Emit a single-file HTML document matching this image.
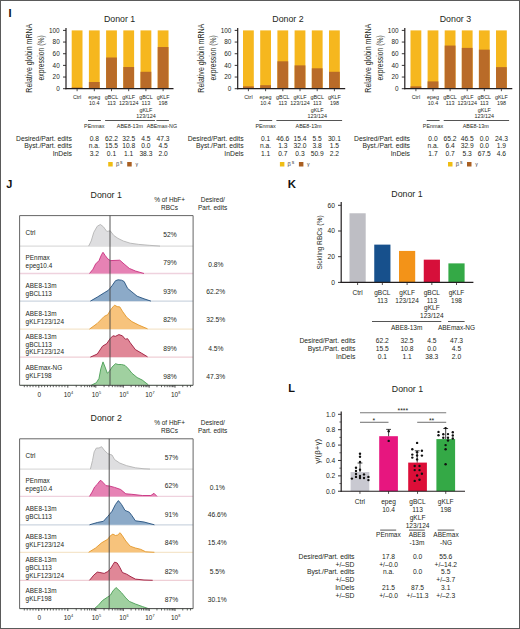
<!DOCTYPE html>
<html><head><meta charset="utf-8"><title>Figure</title>
<style>
html,body{margin:0;padding:0;background:#fff;}
#fig{position:relative;width:520px;height:629px;overflow:hidden;background:#fff;}
svg{position:absolute;left:0;top:0;display:block;font-family:"Liberation Sans", sans-serif;}
#brd{position:absolute;left:0;top:0;width:518px;height:627px;border:1px solid #5a5a5a;}
</style></head>
<body><div id="fig">
<svg width="520" height="629" viewBox="0 0 520 629">
<text x="119.6" y="22.3" font-size="8.8" text-anchor="middle" fill="#231f20" font-weight="normal">Donor 1</text>
<rect x="71.70" y="30.40" width="10.80" height="58.30" fill="#f6b71e"/>
<rect x="71.70" y="87.53" width="10.80" height="1.17" fill="#b96b28"/>
<rect x="88.90" y="30.40" width="10.80" height="58.30" fill="#f6b71e"/>
<rect x="88.90" y="82.00" width="10.80" height="6.70" fill="#b96b28"/>
<rect x="106.10" y="30.40" width="10.80" height="58.30" fill="#f6b71e"/>
<rect x="106.10" y="57.51" width="10.80" height="31.19" fill="#b96b28"/>
<rect x="123.30" y="30.40" width="10.80" height="58.30" fill="#f6b71e"/>
<rect x="123.30" y="67.01" width="10.80" height="21.69" fill="#b96b28"/>
<rect x="140.50" y="30.40" width="10.80" height="58.30" fill="#f6b71e"/>
<rect x="140.50" y="71.79" width="10.80" height="16.91" fill="#b96b28"/>
<rect x="157.70" y="30.40" width="10.80" height="58.30" fill="#f6b71e"/>
<rect x="157.70" y="47.02" width="10.80" height="41.68" fill="#b96b28"/>
<line x1="66.0" y1="27.9" x2="66.0" y2="89.3" stroke="#231f20" stroke-width="1.2"/>
<line x1="65.4" y1="88.7" x2="173.5" y2="88.7" stroke="#231f20" stroke-width="1.2"/>
<line x1="63.0" y1="88.7" x2="66.0" y2="88.7" stroke="#231f20" stroke-width="0.9"/>
<text x="59.7" y="90.9" font-size="6.4" text-anchor="end" fill="#231f20" font-weight="normal">0</text>
<line x1="63.0" y1="77.04" x2="66.0" y2="77.04" stroke="#231f20" stroke-width="0.9"/>
<text x="59.7" y="79.24000000000001" font-size="6.4" text-anchor="end" fill="#231f20" font-weight="normal">20</text>
<line x1="63.0" y1="65.38" x2="66.0" y2="65.38" stroke="#231f20" stroke-width="0.9"/>
<text x="59.7" y="67.58" font-size="6.4" text-anchor="end" fill="#231f20" font-weight="normal">40</text>
<line x1="63.0" y1="53.72" x2="66.0" y2="53.72" stroke="#231f20" stroke-width="0.9"/>
<text x="59.7" y="55.92" font-size="6.4" text-anchor="end" fill="#231f20" font-weight="normal">60</text>
<line x1="63.0" y1="42.059999999999995" x2="66.0" y2="42.059999999999995" stroke="#231f20" stroke-width="0.9"/>
<text x="59.7" y="44.26" font-size="6.4" text-anchor="end" fill="#231f20" font-weight="normal">80</text>
<line x1="63.0" y1="30.4" x2="66.0" y2="30.4" stroke="#231f20" stroke-width="0.9"/>
<text x="59.7" y="32.6" font-size="6.4" text-anchor="end" fill="#231f20" font-weight="normal">100</text>
<line x1="77.10000000000001" y1="88.7" x2="77.10000000000001" y2="91.2" stroke="#231f20" stroke-width="0.8"/>
<text x="77.10000000000001" y="98.6" font-size="5.4" text-anchor="middle" fill="#231f20" font-weight="normal">Ctrl</text>
<line x1="94.30000000000001" y1="88.7" x2="94.30000000000001" y2="91.2" stroke="#231f20" stroke-width="0.8"/>
<text x="94.30000000000001" y="98.6" font-size="5.4" text-anchor="middle" fill="#231f20" font-weight="normal">epeg</text>
<text x="94.30000000000001" y="105.0" font-size="5.4" text-anchor="middle" fill="#231f20" font-weight="normal">10.4</text>
<line x1="111.5" y1="88.7" x2="111.5" y2="91.2" stroke="#231f20" stroke-width="0.8"/>
<text x="111.5" y="98.6" font-size="5.4" text-anchor="middle" fill="#231f20" font-weight="normal">gBCL</text>
<text x="111.5" y="105.0" font-size="5.4" text-anchor="middle" fill="#231f20" font-weight="normal">113</text>
<line x1="128.7" y1="88.7" x2="128.7" y2="91.2" stroke="#231f20" stroke-width="0.8"/>
<text x="128.7" y="98.6" font-size="5.4" text-anchor="middle" fill="#231f20" font-weight="normal">gKLF</text>
<text x="128.7" y="105.0" font-size="5.4" text-anchor="middle" fill="#231f20" font-weight="normal">123/124</text>
<line x1="145.9" y1="88.7" x2="145.9" y2="91.2" stroke="#231f20" stroke-width="0.8"/>
<text x="145.9" y="98.6" font-size="5.4" text-anchor="middle" fill="#231f20" font-weight="normal">gBCL</text>
<text x="145.9" y="105.0" font-size="5.4" text-anchor="middle" fill="#231f20" font-weight="normal">113</text>
<line x1="163.1" y1="88.7" x2="163.1" y2="91.2" stroke="#231f20" stroke-width="0.8"/>
<text x="163.1" y="98.6" font-size="5.4" text-anchor="middle" fill="#231f20" font-weight="normal">gKLF</text>
<text x="163.1" y="105.0" font-size="5.4" text-anchor="middle" fill="#231f20" font-weight="normal">198</text>
<text x="145.9" y="111.6" font-size="5.4" text-anchor="middle" fill="#231f20" font-weight="normal">gKLF</text>
<text x="145.9" y="118.0" font-size="5.4" text-anchor="middle" fill="#231f20" font-weight="normal">123/124</text>
<text transform="translate(32.4,58.2) rotate(-90) scale(0.85,1)" x="0" y="0" font-size="8.3" text-anchor="middle" fill="#231f20">Relative globin mRNA</text>
<text transform="translate(44.0,57.9) rotate(-90) scale(0.818,1)" x="0" y="0" font-size="8.3" text-anchor="middle" fill="#231f20">expression (%)</text>
<line x1="88.00000000000001" y1="120.5" x2="100.9" y2="120.5" stroke="#555" stroke-width="1.0"/>
<text x="94.30000000000001" y="127.9" font-size="5.4" text-anchor="middle" fill="#231f20" font-weight="normal">PEnmax</text>
<line x1="105.1" y1="120.5" x2="155.0" y2="120.5" stroke="#555" stroke-width="1.0"/>
<text x="129.89999999999998" y="127.9" font-size="5.4" text-anchor="middle" fill="#231f20" font-weight="normal">ABE8-13m</text>
<line x1="156.4" y1="120.5" x2="168.9" y2="120.5" stroke="#555" stroke-width="1.0"/>
<text x="161.9" y="127.9" font-size="5.3" text-anchor="middle" fill="#231f20" font-weight="normal">ABEmax-NG</text>
<text x="71.9" y="140.8" font-size="6.8" text-anchor="end" fill="#231f20" font-weight="normal">Desired/Part. edits</text>
<text x="94.30000000000001" y="140.8" font-size="6.7" text-anchor="middle" fill="#231f20" font-weight="normal">0.8</text>
<text x="111.5" y="140.8" font-size="6.7" text-anchor="middle" fill="#231f20" font-weight="normal">62.2</text>
<text x="128.7" y="140.8" font-size="6.7" text-anchor="middle" fill="#231f20" font-weight="normal">32.5</text>
<text x="145.9" y="140.8" font-size="6.7" text-anchor="middle" fill="#231f20" font-weight="normal">4.5</text>
<text x="163.1" y="140.8" font-size="6.7" text-anchor="middle" fill="#231f20" font-weight="normal">47.3</text>
<text x="71.9" y="148.3" font-size="6.8" text-anchor="end" fill="#231f20" font-weight="normal">Byst./Part. edits</text>
<text x="94.30000000000001" y="148.3" font-size="6.7" text-anchor="middle" fill="#231f20" font-weight="normal">n.a.</text>
<text x="111.5" y="148.3" font-size="6.7" text-anchor="middle" fill="#231f20" font-weight="normal">15.5</text>
<text x="128.7" y="148.3" font-size="6.7" text-anchor="middle" fill="#231f20" font-weight="normal">10.8</text>
<text x="145.9" y="148.3" font-size="6.7" text-anchor="middle" fill="#231f20" font-weight="normal">0.0</text>
<text x="163.1" y="148.3" font-size="6.7" text-anchor="middle" fill="#231f20" font-weight="normal">4.5</text>
<text x="71.9" y="155.8" font-size="6.8" text-anchor="end" fill="#231f20" font-weight="normal">InDels</text>
<text x="94.30000000000001" y="155.8" font-size="6.7" text-anchor="middle" fill="#231f20" font-weight="normal">3.2</text>
<text x="111.5" y="155.8" font-size="6.7" text-anchor="middle" fill="#231f20" font-weight="normal">0.1</text>
<text x="128.7" y="155.8" font-size="6.7" text-anchor="middle" fill="#231f20" font-weight="normal">1.1</text>
<text x="145.9" y="155.8" font-size="6.7" text-anchor="middle" fill="#231f20" font-weight="normal">38.3</text>
<text x="163.1" y="155.8" font-size="6.7" text-anchor="middle" fill="#231f20" font-weight="normal">2.0</text>
<rect x="108.20" y="162.00" width="4.50" height="4.50" fill="#efbd14"/>
<text x="115.9" y="165.7" font-size="5.9" text-anchor="start" fill="#444" font-weight="normal">β</text>
<text x="120.10000000000001" y="163.6" font-size="5.0" text-anchor="start" fill="#333" font-weight="normal">s</text>
<rect x="127.20" y="162.00" width="4.50" height="4.50" fill="#a95f22"/>
<text x="135.4" y="166.1" font-size="5.2" text-anchor="start" fill="#444" font-weight="normal">γ</text>
<text x="288.0" y="22.3" font-size="8.8" text-anchor="middle" fill="#231f20" font-weight="normal">Donor 2</text>
<rect x="243.00" y="30.40" width="10.80" height="58.30" fill="#f6b71e"/>
<rect x="243.00" y="86.37" width="10.80" height="2.33" fill="#b96b28"/>
<rect x="260.20" y="30.40" width="10.80" height="58.30" fill="#f6b71e"/>
<rect x="260.20" y="85.20" width="10.80" height="3.50" fill="#b96b28"/>
<rect x="277.40" y="30.40" width="10.80" height="58.30" fill="#f6b71e"/>
<rect x="277.40" y="61.30" width="10.80" height="27.40" fill="#b96b28"/>
<rect x="294.60" y="30.40" width="10.80" height="58.30" fill="#f6b71e"/>
<rect x="294.60" y="65.38" width="10.80" height="23.32" fill="#b96b28"/>
<rect x="311.80" y="30.40" width="10.80" height="58.30" fill="#f6b71e"/>
<rect x="311.80" y="68.30" width="10.80" height="20.41" fill="#b96b28"/>
<rect x="329.00" y="30.40" width="10.80" height="58.30" fill="#f6b71e"/>
<rect x="329.00" y="71.79" width="10.80" height="16.91" fill="#b96b28"/>
<line x1="237.7" y1="27.9" x2="237.7" y2="89.3" stroke="#231f20" stroke-width="1.2"/>
<line x1="237.1" y1="88.7" x2="345.2" y2="88.7" stroke="#231f20" stroke-width="1.2"/>
<line x1="234.7" y1="88.7" x2="237.7" y2="88.7" stroke="#231f20" stroke-width="0.9"/>
<text x="231.39999999999998" y="90.9" font-size="6.4" text-anchor="end" fill="#231f20" font-weight="normal">0</text>
<line x1="234.7" y1="77.04" x2="237.7" y2="77.04" stroke="#231f20" stroke-width="0.9"/>
<text x="231.39999999999998" y="79.24000000000001" font-size="6.4" text-anchor="end" fill="#231f20" font-weight="normal">20</text>
<line x1="234.7" y1="65.38" x2="237.7" y2="65.38" stroke="#231f20" stroke-width="0.9"/>
<text x="231.39999999999998" y="67.58" font-size="6.4" text-anchor="end" fill="#231f20" font-weight="normal">40</text>
<line x1="234.7" y1="53.72" x2="237.7" y2="53.72" stroke="#231f20" stroke-width="0.9"/>
<text x="231.39999999999998" y="55.92" font-size="6.4" text-anchor="end" fill="#231f20" font-weight="normal">60</text>
<line x1="234.7" y1="42.059999999999995" x2="237.7" y2="42.059999999999995" stroke="#231f20" stroke-width="0.9"/>
<text x="231.39999999999998" y="44.26" font-size="6.4" text-anchor="end" fill="#231f20" font-weight="normal">80</text>
<line x1="234.7" y1="30.4" x2="237.7" y2="30.4" stroke="#231f20" stroke-width="0.9"/>
<text x="231.39999999999998" y="32.6" font-size="6.4" text-anchor="end" fill="#231f20" font-weight="normal">100</text>
<line x1="248.4" y1="88.7" x2="248.4" y2="91.2" stroke="#231f20" stroke-width="0.8"/>
<text x="248.4" y="98.6" font-size="5.4" text-anchor="middle" fill="#231f20" font-weight="normal">Ctrl</text>
<line x1="265.59999999999997" y1="88.7" x2="265.59999999999997" y2="91.2" stroke="#231f20" stroke-width="0.8"/>
<text x="265.59999999999997" y="98.6" font-size="5.4" text-anchor="middle" fill="#231f20" font-weight="normal">epeg</text>
<text x="265.59999999999997" y="105.0" font-size="5.4" text-anchor="middle" fill="#231f20" font-weight="normal">10.4</text>
<line x1="282.79999999999995" y1="88.7" x2="282.79999999999995" y2="91.2" stroke="#231f20" stroke-width="0.8"/>
<text x="282.79999999999995" y="98.6" font-size="5.4" text-anchor="middle" fill="#231f20" font-weight="normal">gBCL</text>
<text x="282.79999999999995" y="105.0" font-size="5.4" text-anchor="middle" fill="#231f20" font-weight="normal">113</text>
<line x1="300.0" y1="88.7" x2="300.0" y2="91.2" stroke="#231f20" stroke-width="0.8"/>
<text x="300.0" y="98.6" font-size="5.4" text-anchor="middle" fill="#231f20" font-weight="normal">gKLF</text>
<text x="300.0" y="105.0" font-size="5.4" text-anchor="middle" fill="#231f20" font-weight="normal">123/124</text>
<line x1="317.2" y1="88.7" x2="317.2" y2="91.2" stroke="#231f20" stroke-width="0.8"/>
<text x="317.2" y="98.6" font-size="5.4" text-anchor="middle" fill="#231f20" font-weight="normal">gBCL</text>
<text x="317.2" y="105.0" font-size="5.4" text-anchor="middle" fill="#231f20" font-weight="normal">113</text>
<line x1="334.4" y1="88.7" x2="334.4" y2="91.2" stroke="#231f20" stroke-width="0.8"/>
<text x="334.4" y="98.6" font-size="5.4" text-anchor="middle" fill="#231f20" font-weight="normal">gKLF</text>
<text x="334.4" y="105.0" font-size="5.4" text-anchor="middle" fill="#231f20" font-weight="normal">198</text>
<text x="317.2" y="111.6" font-size="5.4" text-anchor="middle" fill="#231f20" font-weight="normal">gKLF</text>
<text x="317.2" y="118.0" font-size="5.4" text-anchor="middle" fill="#231f20" font-weight="normal">123/124</text>
<text transform="translate(204.1,58.2) rotate(-90) scale(0.85,1)" x="0" y="0" font-size="8.3" text-anchor="middle" fill="#231f20">Relative globin mRNA</text>
<text transform="translate(215.7,57.9) rotate(-90) scale(0.818,1)" x="0" y="0" font-size="8.3" text-anchor="middle" fill="#231f20">expression (%)</text>
<line x1="259.29999999999995" y1="120.5" x2="272.2" y2="120.5" stroke="#555" stroke-width="1.0"/>
<text x="265.59999999999997" y="127.9" font-size="5.4" text-anchor="middle" fill="#231f20" font-weight="normal">PEnmax</text>
<line x1="276.4" y1="120.5" x2="342.09999999999997" y2="120.5" stroke="#555" stroke-width="1.0"/>
<text x="308.59999999999997" y="127.9" font-size="5.4" text-anchor="middle" fill="#231f20" font-weight="normal">ABE8-13m</text>
<text x="243.6" y="140.8" font-size="6.8" text-anchor="end" fill="#231f20" font-weight="normal">Desired/Part. edits</text>
<text x="265.59999999999997" y="140.8" font-size="6.7" text-anchor="middle" fill="#231f20" font-weight="normal">0.1</text>
<text x="282.79999999999995" y="140.8" font-size="6.7" text-anchor="middle" fill="#231f20" font-weight="normal">46.6</text>
<text x="300.0" y="140.8" font-size="6.7" text-anchor="middle" fill="#231f20" font-weight="normal">15.4</text>
<text x="317.2" y="140.8" font-size="6.7" text-anchor="middle" fill="#231f20" font-weight="normal">5.5</text>
<text x="334.4" y="140.8" font-size="6.7" text-anchor="middle" fill="#231f20" font-weight="normal">30.1</text>
<text x="243.6" y="148.3" font-size="6.8" text-anchor="end" fill="#231f20" font-weight="normal">Byst./Part. edits</text>
<text x="265.59999999999997" y="148.3" font-size="6.7" text-anchor="middle" fill="#231f20" font-weight="normal">n.a.</text>
<text x="282.79999999999995" y="148.3" font-size="6.7" text-anchor="middle" fill="#231f20" font-weight="normal">1.3</text>
<text x="300.0" y="148.3" font-size="6.7" text-anchor="middle" fill="#231f20" font-weight="normal">32.0</text>
<text x="317.2" y="148.3" font-size="6.7" text-anchor="middle" fill="#231f20" font-weight="normal">3.8</text>
<text x="334.4" y="148.3" font-size="6.7" text-anchor="middle" fill="#231f20" font-weight="normal">1.5</text>
<text x="243.6" y="155.8" font-size="6.8" text-anchor="end" fill="#231f20" font-weight="normal">InDels</text>
<text x="265.59999999999997" y="155.8" font-size="6.7" text-anchor="middle" fill="#231f20" font-weight="normal">1.1</text>
<text x="282.79999999999995" y="155.8" font-size="6.7" text-anchor="middle" fill="#231f20" font-weight="normal">0.7</text>
<text x="300.0" y="155.8" font-size="6.7" text-anchor="middle" fill="#231f20" font-weight="normal">0.3</text>
<text x="317.2" y="155.8" font-size="6.7" text-anchor="middle" fill="#231f20" font-weight="normal">50.9</text>
<text x="334.4" y="155.8" font-size="6.7" text-anchor="middle" fill="#231f20" font-weight="normal">2.2</text>
<rect x="279.90" y="162.00" width="4.50" height="4.50" fill="#efbd14"/>
<text x="287.5999999999999" y="165.7" font-size="5.9" text-anchor="start" fill="#444" font-weight="normal">β</text>
<text x="291.7999999999999" y="163.6" font-size="5.0" text-anchor="start" fill="#333" font-weight="normal">s</text>
<rect x="298.90" y="162.00" width="4.50" height="4.50" fill="#a95f22"/>
<text x="307.0999999999999" y="166.1" font-size="5.2" text-anchor="start" fill="#444" font-weight="normal">γ</text>
<text x="455.4" y="22.3" font-size="8.8" text-anchor="middle" fill="#231f20" font-weight="normal">Donor 3</text>
<rect x="410.50" y="30.40" width="10.80" height="58.30" fill="#f6b71e"/>
<rect x="410.50" y="86.37" width="10.80" height="2.33" fill="#b96b28"/>
<rect x="427.60" y="30.40" width="10.80" height="58.30" fill="#f6b71e"/>
<rect x="427.60" y="81.41" width="10.80" height="7.29" fill="#b96b28"/>
<rect x="444.70" y="30.40" width="10.80" height="58.30" fill="#f6b71e"/>
<rect x="444.70" y="45.56" width="10.80" height="43.14" fill="#b96b28"/>
<rect x="461.80" y="30.40" width="10.80" height="58.30" fill="#f6b71e"/>
<rect x="461.80" y="47.89" width="10.80" height="40.81" fill="#b96b28"/>
<rect x="478.90" y="30.40" width="10.80" height="58.30" fill="#f6b71e"/>
<rect x="478.90" y="49.64" width="10.80" height="39.06" fill="#b96b28"/>
<rect x="496.00" y="30.40" width="10.80" height="58.30" fill="#f6b71e"/>
<rect x="496.00" y="67.13" width="10.80" height="21.57" fill="#b96b28"/>
<line x1="404.8" y1="27.9" x2="404.8" y2="89.3" stroke="#231f20" stroke-width="1.2"/>
<line x1="404.2" y1="88.7" x2="512.3" y2="88.7" stroke="#231f20" stroke-width="1.2"/>
<line x1="401.8" y1="88.7" x2="404.8" y2="88.7" stroke="#231f20" stroke-width="0.9"/>
<text x="398.5" y="90.9" font-size="6.4" text-anchor="end" fill="#231f20" font-weight="normal">0</text>
<line x1="401.8" y1="77.04" x2="404.8" y2="77.04" stroke="#231f20" stroke-width="0.9"/>
<text x="398.5" y="79.24000000000001" font-size="6.4" text-anchor="end" fill="#231f20" font-weight="normal">20</text>
<line x1="401.8" y1="65.38" x2="404.8" y2="65.38" stroke="#231f20" stroke-width="0.9"/>
<text x="398.5" y="67.58" font-size="6.4" text-anchor="end" fill="#231f20" font-weight="normal">40</text>
<line x1="401.8" y1="53.72" x2="404.8" y2="53.72" stroke="#231f20" stroke-width="0.9"/>
<text x="398.5" y="55.92" font-size="6.4" text-anchor="end" fill="#231f20" font-weight="normal">60</text>
<line x1="401.8" y1="42.059999999999995" x2="404.8" y2="42.059999999999995" stroke="#231f20" stroke-width="0.9"/>
<text x="398.5" y="44.26" font-size="6.4" text-anchor="end" fill="#231f20" font-weight="normal">80</text>
<line x1="401.8" y1="30.4" x2="404.8" y2="30.4" stroke="#231f20" stroke-width="0.9"/>
<text x="398.5" y="32.6" font-size="6.4" text-anchor="end" fill="#231f20" font-weight="normal">100</text>
<line x1="415.9" y1="88.7" x2="415.9" y2="91.2" stroke="#231f20" stroke-width="0.8"/>
<text x="415.9" y="98.6" font-size="5.4" text-anchor="middle" fill="#231f20" font-weight="normal">Ctrl</text>
<line x1="433.0" y1="88.7" x2="433.0" y2="91.2" stroke="#231f20" stroke-width="0.8"/>
<text x="433.0" y="98.6" font-size="5.4" text-anchor="middle" fill="#231f20" font-weight="normal">epeg</text>
<text x="433.0" y="105.0" font-size="5.4" text-anchor="middle" fill="#231f20" font-weight="normal">10.4</text>
<line x1="450.09999999999997" y1="88.7" x2="450.09999999999997" y2="91.2" stroke="#231f20" stroke-width="0.8"/>
<text x="450.09999999999997" y="98.6" font-size="5.4" text-anchor="middle" fill="#231f20" font-weight="normal">gBCL</text>
<text x="450.09999999999997" y="105.0" font-size="5.4" text-anchor="middle" fill="#231f20" font-weight="normal">113</text>
<line x1="467.2" y1="88.7" x2="467.2" y2="91.2" stroke="#231f20" stroke-width="0.8"/>
<text x="467.2" y="98.6" font-size="5.4" text-anchor="middle" fill="#231f20" font-weight="normal">gKLF</text>
<text x="467.2" y="105.0" font-size="5.4" text-anchor="middle" fill="#231f20" font-weight="normal">123/124</text>
<line x1="484.29999999999995" y1="88.7" x2="484.29999999999995" y2="91.2" stroke="#231f20" stroke-width="0.8"/>
<text x="484.29999999999995" y="98.6" font-size="5.4" text-anchor="middle" fill="#231f20" font-weight="normal">gBCL</text>
<text x="484.29999999999995" y="105.0" font-size="5.4" text-anchor="middle" fill="#231f20" font-weight="normal">113</text>
<line x1="501.4" y1="88.7" x2="501.4" y2="91.2" stroke="#231f20" stroke-width="0.8"/>
<text x="501.4" y="98.6" font-size="5.4" text-anchor="middle" fill="#231f20" font-weight="normal">gKLF</text>
<text x="501.4" y="105.0" font-size="5.4" text-anchor="middle" fill="#231f20" font-weight="normal">198</text>
<text x="484.29999999999995" y="111.6" font-size="5.4" text-anchor="middle" fill="#231f20" font-weight="normal">gKLF</text>
<text x="484.29999999999995" y="118.0" font-size="5.4" text-anchor="middle" fill="#231f20" font-weight="normal">123/124</text>
<text transform="translate(371.2,58.2) rotate(-90) scale(0.85,1)" x="0" y="0" font-size="8.3" text-anchor="middle" fill="#231f20">Relative globin mRNA</text>
<text transform="translate(382.8,57.9) rotate(-90) scale(0.818,1)" x="0" y="0" font-size="8.3" text-anchor="middle" fill="#231f20">expression (%)</text>
<line x1="426.7" y1="120.5" x2="439.6" y2="120.5" stroke="#555" stroke-width="1.0"/>
<text x="433.0" y="127.9" font-size="5.4" text-anchor="middle" fill="#231f20" font-weight="normal">PEnmax</text>
<line x1="443.7" y1="120.5" x2="509.09999999999997" y2="120.5" stroke="#555" stroke-width="1.0"/>
<text x="475.75" y="127.9" font-size="5.4" text-anchor="middle" fill="#231f20" font-weight="normal">ABE8-13m</text>
<text x="410.0" y="140.8" font-size="6.8" text-anchor="end" fill="#231f20" font-weight="normal">Desired/Part. edits</text>
<text x="433.0" y="140.8" font-size="6.7" text-anchor="middle" fill="#231f20" font-weight="normal">0.0</text>
<text x="450.09999999999997" y="140.8" font-size="6.7" text-anchor="middle" fill="#231f20" font-weight="normal">65.2</text>
<text x="467.2" y="140.8" font-size="6.7" text-anchor="middle" fill="#231f20" font-weight="normal">46.5</text>
<text x="484.29999999999995" y="140.8" font-size="6.7" text-anchor="middle" fill="#231f20" font-weight="normal">0.0</text>
<text x="501.4" y="140.8" font-size="6.7" text-anchor="middle" fill="#231f20" font-weight="normal">24.3</text>
<text x="410.0" y="148.3" font-size="6.8" text-anchor="end" fill="#231f20" font-weight="normal">Byst./Part. edits</text>
<text x="433.0" y="148.3" font-size="6.7" text-anchor="middle" fill="#231f20" font-weight="normal">n.a.</text>
<text x="450.09999999999997" y="148.3" font-size="6.7" text-anchor="middle" fill="#231f20" font-weight="normal">6.4</text>
<text x="467.2" y="148.3" font-size="6.7" text-anchor="middle" fill="#231f20" font-weight="normal">32.9</text>
<text x="484.29999999999995" y="148.3" font-size="6.7" text-anchor="middle" fill="#231f20" font-weight="normal">0.0</text>
<text x="501.4" y="148.3" font-size="6.7" text-anchor="middle" fill="#231f20" font-weight="normal">1.9</text>
<text x="410.0" y="155.8" font-size="6.8" text-anchor="end" fill="#231f20" font-weight="normal">InDels</text>
<text x="433.0" y="155.8" font-size="6.7" text-anchor="middle" fill="#231f20" font-weight="normal">1.7</text>
<text x="450.09999999999997" y="155.8" font-size="6.7" text-anchor="middle" fill="#231f20" font-weight="normal">0.7</text>
<text x="467.2" y="155.8" font-size="6.7" text-anchor="middle" fill="#231f20" font-weight="normal">5.3</text>
<text x="484.29999999999995" y="155.8" font-size="6.7" text-anchor="middle" fill="#231f20" font-weight="normal">67.5</text>
<text x="501.4" y="155.8" font-size="6.7" text-anchor="middle" fill="#231f20" font-weight="normal">4.6</text>
<rect x="448.00" y="162.00" width="4.50" height="4.50" fill="#efbd14"/>
<text x="455.69999999999993" y="165.7" font-size="5.9" text-anchor="start" fill="#444" font-weight="normal">β</text>
<text x="459.8999999999999" y="163.6" font-size="5.0" text-anchor="start" fill="#333" font-weight="normal">s</text>
<rect x="467.00" y="162.00" width="4.50" height="4.50" fill="#a95f22"/>
<text x="475.19999999999993" y="166.1" font-size="5.2" text-anchor="start" fill="#444" font-weight="normal">γ</text>
<text x="8.6" y="17.4" font-size="11" text-anchor="start" fill="#111" font-weight="bold">I</text>
<text x="6.3" y="188.2" font-size="11" text-anchor="start" fill="#111" font-weight="bold">J</text>
<text x="287.8" y="188.0" font-size="11.4" text-anchor="start" fill="#111" font-weight="bold">K</text>
<text x="288.2" y="391.8" font-size="11" text-anchor="start" fill="#111" font-weight="bold">L</text>
<text x="106.2" y="197.9" font-size="8.8" text-anchor="middle" fill="#231f20" font-weight="normal">Donor 1</text>
<text x="169.6" y="202.1" font-size="6.5" text-anchor="middle" fill="#231f20" font-weight="normal">% of HbF+</text>
<text x="169.6" y="209.6" font-size="6.5" text-anchor="middle" fill="#231f20" font-weight="normal">RBCs</text>
<text x="212.8" y="202.1" font-size="6.5" text-anchor="middle" fill="#231f20" font-weight="normal">Desired/</text>
<text x="212.6" y="209.6" font-size="6.5" text-anchor="middle" fill="#231f20" font-weight="normal">Part. edits</text>
<line x1="19.6" y1="246.1" x2="193.1" y2="246.1" stroke="#dcdcdc" stroke-width="1.3"/>
<path d="M88.65,246.1 L88.65,246.1 L91.2,241 L93.8,232.3 L97.3,226.2 L100.4,224.5 L103.4,226.8 L106.8,231.4 L110.3,230.9 L113.7,235.4 L118,238.4 L123.3,241 L130.2,243.2 L138.8,244.4 L149.2,245.3 L160,246.1 L160,246.1 Z" fill="#dedee0" stroke="none"/>
<path d="M88.65,246.1 L88.65,246.1 L91.2,241 L93.8,232.3 L97.3,226.2 L100.4,224.5 L103.4,226.8 L106.8,231.4 L110.3,230.9 L113.7,235.4 L118,238.4 L123.3,241 L130.2,243.2 L138.8,244.4 L149.2,245.3 L160,246.1" fill="none" stroke="#b4b4b4" stroke-width="0.9" stroke-linejoin="round"/>
<line x1="19.6" y1="273.5" x2="193.1" y2="273.5" stroke="#efd2de" stroke-width="1.3"/>
<path d="M89.5,273.5 L89.5,273.5 L93,269.2 L95.6,264 L99,260.6 L101.6,254.5 L103,252.3 L105.1,255.4 L107.7,258.8 L110.3,260.6 L119.8,260.2 L124.1,264 L129.3,268.4 L135.4,271 L144,273.5 L144,273.5 Z" fill="#e682b4" stroke="none"/>
<path d="M89.5,273.5 L89.5,273.5 L93,269.2 L95.6,264 L99,260.6 L101.6,254.5 L103,252.3 L105.1,255.4 L107.7,258.8 L110.3,260.6 L119.8,260.2 L124.1,264 L129.3,268.4 L135.4,271 L144,273.5" fill="none" stroke="#c8307f" stroke-width="0.9" stroke-linejoin="round"/>
<line x1="19.6" y1="301.1" x2="193.1" y2="301.1" stroke="#cdd6e0" stroke-width="1.3"/>
<path d="M90.4,301.1 L90.4,301.1 L97.3,297.1 L104.2,292.8 L108.5,290.2 L112,285.8 L115.5,280.7 L118.1,279.8 L121.5,280.2 L124.1,281.5 L127.6,288.4 L131.9,291.9 L137.1,296.2 L144,298.8 L150.9,301.1 L150.9,301.1 Z" fill="#8caac8" stroke="none"/>
<path d="M90.4,301.1 L90.4,301.1 L97.3,297.1 L104.2,292.8 L108.5,290.2 L112,285.8 L115.5,280.7 L118.1,279.8 L121.5,280.2 L124.1,281.5 L127.6,288.4 L131.9,291.9 L137.1,296.2 L144,298.8 L150.9,301.1" fill="none" stroke="#24507e" stroke-width="0.9" stroke-linejoin="round"/>
<line x1="19.6" y1="329.1" x2="193.1" y2="329.1" stroke="#f5e6cc" stroke-width="1.3"/>
<path d="M89.5,329.1 L89.5,329.1 L97.3,323.4 L104.2,316.4 L107.7,314.7 L110.3,310.4 L112.9,306.9 L114.6,305.2 L117.2,306.6 L119.8,306.9 L122.4,311.2 L126.7,317.3 L131.9,321.6 L138.8,325.1 L147.5,328.8 L147.5,329.1 Z" fill="#f7c37c" stroke="none"/>
<path d="M89.5,329.1 L89.5,329.1 L97.3,323.4 L104.2,316.4 L107.7,314.7 L110.3,310.4 L112.9,306.9 L114.6,305.2 L117.2,306.6 L119.8,306.9 L122.4,311.2 L126.7,317.3 L131.9,321.6 L138.8,325.1 L147.5,328.8" fill="none" stroke="#e3972a" stroke-width="0.9" stroke-linejoin="round"/>
<line x1="19.6" y1="357.1" x2="193.1" y2="357.1" stroke="#efcfd6" stroke-width="1.3"/>
<path d="M90.4,357.1 L90.4,357.1 L97.3,354 L102.5,346.2 L106.8,343.6 L110.3,338.4 L112.9,335.8 L115.5,336.3 L118.9,334.6 L122.4,335.8 L125.3,339.2 L127.6,338.7 L130.2,342.7 L135.4,349.6 L141.4,353.1 L147.5,356.8 L147.5,357.1 Z" fill="#e08797" stroke="none"/>
<path d="M90.4,357.1 L90.4,357.1 L97.3,354 L102.5,346.2 L106.8,343.6 L110.3,338.4 L112.9,335.8 L115.5,336.3 L118.9,334.6 L122.4,335.8 L125.3,339.2 L127.6,338.7 L130.2,342.7 L135.4,349.6 L141.4,353.1 L147.5,356.8" fill="none" stroke="#9c1b3c" stroke-width="0.9" stroke-linejoin="round"/>
<line x1="19.6" y1="385.3" x2="193.1" y2="385.3" stroke="#d3ebd3" stroke-width="1.3"/>
<path d="M91.2,385.3 L91.2,385.3 L96.4,382.7 L99,378.4 L100.8,368.8 L103,361.9 L105.1,367.1 L107.3,373.2 L109.4,371.4 L112,367.1 L115.5,363.7 L118.1,364.5 L121.5,364.5 L125,365.4 L128.4,368.8 L131.9,373.2 L137.1,377.5 L142.3,380.1 L148.3,384.8 L148.3,385.3 Z" fill="#a0d0a0" stroke="none"/>
<path d="M91.2,385.3 L91.2,385.3 L96.4,382.7 L99,378.4 L100.8,368.8 L103,361.9 L105.1,367.1 L107.3,373.2 L109.4,371.4 L112,367.1 L115.5,363.7 L118.1,364.5 L121.5,364.5 L125,365.4 L128.4,368.8 L131.9,373.2 L137.1,377.5 L142.3,380.1 L148.3,384.8" fill="none" stroke="#4a9e55" stroke-width="0.9" stroke-linejoin="round"/>
<path d="M19.6,385.3 L19.6,215.6 L193.1,215.6 L193.1,385.3" fill="none" stroke="#666" stroke-width="1"/>
<line x1="19.6" y1="385.3" x2="193.1" y2="385.3" stroke="#4a4a4a" stroke-width="1.0"/>
<line x1="110.0" y1="215.6" x2="110.0" y2="385.3" stroke="#444" stroke-width="0.9"/>
<text x="25.6" y="235.0" font-size="6.4" text-anchor="start" fill="#231f20" font-weight="normal">Ctrl</text>
<text x="170.0" y="237.1" font-size="6.7" text-anchor="middle" fill="#231f20" font-weight="normal">52%</text>
<text x="25.6" y="260.0" font-size="6.4" text-anchor="start" fill="#231f20" font-weight="normal">PEnmax</text>
<text x="25.6" y="267.8" font-size="6.4" text-anchor="start" fill="#231f20" font-weight="normal">epeg10.4</text>
<text x="170.0" y="265.2" font-size="6.7" text-anchor="middle" fill="#231f20" font-weight="normal">79%</text>
<text x="215.8" y="266.9" font-size="6.7" text-anchor="middle" fill="#231f20" font-weight="normal">0.8%</text>
<text x="25.6" y="287.9" font-size="6.4" text-anchor="start" fill="#231f20" font-weight="normal">ABE8-13m</text>
<text x="25.6" y="295.7" font-size="6.4" text-anchor="start" fill="#231f20" font-weight="normal">gBCL113</text>
<text x="170.0" y="293.7" font-size="6.7" text-anchor="middle" fill="#231f20" font-weight="normal">93%</text>
<text x="215.8" y="293.7" font-size="6.7" text-anchor="middle" fill="#231f20" font-weight="normal">62.2%</text>
<text x="25.6" y="316.2" font-size="6.4" text-anchor="start" fill="#231f20" font-weight="normal">ABE8-13m</text>
<text x="25.6" y="324.0" font-size="6.4" text-anchor="start" fill="#231f20" font-weight="normal">gKLF123/124</text>
<text x="170.0" y="322.1" font-size="6.7" text-anchor="middle" fill="#231f20" font-weight="normal">82%</text>
<text x="215.8" y="322.1" font-size="6.7" text-anchor="middle" fill="#231f20" font-weight="normal">32.5%</text>
<text x="25.6" y="338.7" font-size="6.4" text-anchor="start" fill="#231f20" font-weight="normal">ABE8-13m</text>
<text x="25.6" y="346.5" font-size="6.4" text-anchor="start" fill="#231f20" font-weight="normal">gBCL113</text>
<text x="25.6" y="354.3" font-size="6.4" text-anchor="start" fill="#231f20" font-weight="normal">gKLF123/124</text>
<text x="170.0" y="350.5" font-size="6.7" text-anchor="middle" fill="#231f20" font-weight="normal">89%</text>
<text x="215.8" y="350.5" font-size="6.7" text-anchor="middle" fill="#231f20" font-weight="normal">4.5%</text>
<text x="25.6" y="369.8" font-size="6.4" text-anchor="start" fill="#231f20" font-weight="normal">ABEmax-NG</text>
<text x="25.6" y="377.6" font-size="6.4" text-anchor="start" fill="#231f20" font-weight="normal">gKLF198</text>
<text x="170.0" y="378.7" font-size="6.7" text-anchor="middle" fill="#231f20" font-weight="normal">98%</text>
<text x="215.8" y="378.7" font-size="6.7" text-anchor="middle" fill="#231f20" font-weight="normal">47.3%</text>
<line x1="38.8" y1="385.3" x2="38.8" y2="387.7" stroke="#222" stroke-width="0.8"/>
<line x1="67.8" y1="385.3" x2="67.8" y2="387.7" stroke="#222" stroke-width="0.8"/>
<line x1="95.8" y1="385.3" x2="95.8" y2="387.7" stroke="#222" stroke-width="0.8"/>
<line x1="123.3" y1="385.3" x2="123.3" y2="387.7" stroke="#222" stroke-width="0.8"/>
<line x1="149.2" y1="385.3" x2="149.2" y2="387.7" stroke="#222" stroke-width="0.8"/>
<line x1="175.0" y1="385.3" x2="175.0" y2="387.7" stroke="#222" stroke-width="0.8"/>
<line x1="76.22883987859147" y1="385.3" x2="76.22883987859147" y2="387.2" stroke="#333" stroke-width="0.75"/>
<line x1="81.15939513215055" y1="385.3" x2="81.15939513215055" y2="387.2" stroke="#333" stroke-width="0.75"/>
<line x1="84.65767975718295" y1="385.3" x2="84.65767975718295" y2="387.2" stroke="#333" stroke-width="0.75"/>
<line x1="87.37116012140852" y1="385.3" x2="87.37116012140852" y2="387.2" stroke="#333" stroke-width="0.75"/>
<line x1="89.58823501074201" y1="385.3" x2="89.58823501074201" y2="387.2" stroke="#333" stroke-width="0.75"/>
<line x1="91.46274512039919" y1="385.3" x2="91.46274512039919" y2="387.2" stroke="#333" stroke-width="0.75"/>
<line x1="93.08651963577441" y1="385.3" x2="93.08651963577441" y2="387.2" stroke="#333" stroke-width="0.75"/>
<line x1="94.51879026430109" y1="385.3" x2="94.51879026430109" y2="387.2" stroke="#333" stroke-width="0.75"/>
<line x1="104.07832488075948" y1="385.3" x2="104.07832488075948" y2="387.2" stroke="#333" stroke-width="0.75"/>
<line x1="108.92083450479072" y1="385.3" x2="108.92083450479072" y2="387.2" stroke="#333" stroke-width="0.75"/>
<line x1="112.35664976151897" y1="385.3" x2="112.35664976151897" y2="387.2" stroke="#333" stroke-width="0.75"/>
<line x1="115.02167511924051" y1="385.3" x2="115.02167511924051" y2="387.2" stroke="#333" stroke-width="0.75"/>
<line x1="117.19915938555019" y1="385.3" x2="117.19915938555019" y2="387.2" stroke="#333" stroke-width="0.75"/>
<line x1="119.04019610039205" y1="385.3" x2="119.04019610039205" y2="387.2" stroke="#333" stroke-width="0.75"/>
<line x1="120.63497464227845" y1="385.3" x2="120.63497464227845" y2="387.2" stroke="#333" stroke-width="0.75"/>
<line x1="122.04166900958143" y1="385.3" x2="122.04166900958143" y2="387.2" stroke="#333" stroke-width="0.75"/>
<line x1="131.0966768876971" y1="385.3" x2="131.0966768876971" y2="387.2" stroke="#333" stroke-width="0.75"/>
<line x1="135.65744049723924" y1="385.3" x2="135.65744049723924" y2="387.2" stroke="#333" stroke-width="0.75"/>
<line x1="138.89335377539422" y1="385.3" x2="138.89335377539422" y2="387.2" stroke="#333" stroke-width="0.75"/>
<line x1="141.40332311230287" y1="385.3" x2="141.40332311230287" y2="387.2" stroke="#333" stroke-width="0.75"/>
<line x1="143.45411738493635" y1="385.3" x2="143.45411738493635" y2="387.2" stroke="#333" stroke-width="0.75"/>
<line x1="145.18803923636924" y1="385.3" x2="145.18803923636924" y2="387.2" stroke="#333" stroke-width="0.75"/>
<line x1="146.69003066309133" y1="385.3" x2="146.69003066309133" y2="387.2" stroke="#333" stroke-width="0.75"/>
<line x1="148.01488099447852" y1="385.3" x2="148.01488099447852" y2="387.2" stroke="#333" stroke-width="0.75"/>
<line x1="156.9665738881307" y1="385.3" x2="156.9665738881307" y2="387.2" stroke="#333" stroke-width="0.75"/>
<line x1="161.5097283717673" y1="385.3" x2="161.5097283717673" y2="387.2" stroke="#333" stroke-width="0.75"/>
<line x1="164.73314777626143" y1="385.3" x2="164.73314777626143" y2="387.2" stroke="#333" stroke-width="0.75"/>
<line x1="167.23342611186928" y1="385.3" x2="167.23342611186928" y2="387.2" stroke="#333" stroke-width="0.75"/>
<line x1="169.276302259898" y1="385.3" x2="169.276302259898" y2="387.2" stroke="#333" stroke-width="0.75"/>
<line x1="171.00352943236783" y1="385.3" x2="171.00352943236783" y2="387.2" stroke="#333" stroke-width="0.75"/>
<line x1="172.49972166439215" y1="385.3" x2="172.49972166439215" y2="387.2" stroke="#333" stroke-width="0.75"/>
<line x1="173.81945674353457" y1="385.3" x2="173.81945674353457" y2="387.2" stroke="#333" stroke-width="0.75"/>
<line x1="182.76657388813072" y1="385.3" x2="182.76657388813072" y2="387.2" stroke="#333" stroke-width="0.75"/>
<line x1="187.3097283717673" y1="385.3" x2="187.3097283717673" y2="387.2" stroke="#333" stroke-width="0.75"/>
<line x1="190.53314777626144" y1="385.3" x2="190.53314777626144" y2="387.2" stroke="#333" stroke-width="0.75"/>
<line x1="41.699999999999996" y1="385.3" x2="41.699999999999996" y2="387.2" stroke="#333" stroke-width="0.75"/>
<line x1="44.599999999999994" y1="385.3" x2="44.599999999999994" y2="387.2" stroke="#333" stroke-width="0.75"/>
<line x1="47.5" y1="385.3" x2="47.5" y2="387.2" stroke="#333" stroke-width="0.75"/>
<line x1="50.4" y1="385.3" x2="50.4" y2="387.2" stroke="#333" stroke-width="0.75"/>
<line x1="53.3" y1="385.3" x2="53.3" y2="387.2" stroke="#333" stroke-width="0.75"/>
<line x1="56.199999999999996" y1="385.3" x2="56.199999999999996" y2="387.2" stroke="#333" stroke-width="0.75"/>
<line x1="59.099999999999994" y1="385.3" x2="59.099999999999994" y2="387.2" stroke="#333" stroke-width="0.75"/>
<line x1="62.0" y1="385.3" x2="62.0" y2="387.2" stroke="#333" stroke-width="0.75"/>
<line x1="64.9" y1="385.3" x2="64.9" y2="387.2" stroke="#333" stroke-width="0.75"/>
<line x1="35.9" y1="385.3" x2="35.9" y2="387.2" stroke="#333" stroke-width="0.75"/>
<line x1="33.0" y1="385.3" x2="33.0" y2="387.2" stroke="#333" stroke-width="0.75"/>
<line x1="30.099999999999998" y1="385.3" x2="30.099999999999998" y2="387.2" stroke="#333" stroke-width="0.75"/>
<line x1="27.199999999999996" y1="385.3" x2="27.199999999999996" y2="387.2" stroke="#333" stroke-width="0.75"/>
<line x1="24.299999999999997" y1="385.3" x2="24.299999999999997" y2="387.2" stroke="#333" stroke-width="0.75"/>
<text x="39.2" y="396.7" font-size="6.4" text-anchor="middle" fill="#231f20" font-weight="normal">0</text>
<text x="67.3" y="396.7" font-size="6.4" text-anchor="middle" fill="#231f20" font-weight="normal">10</text>
<text x="71.0" y="393.59999999999997" font-size="3.8" text-anchor="start" fill="#231f20" font-weight="normal">4</text>
<text x="95.3" y="396.7" font-size="6.4" text-anchor="middle" fill="#231f20" font-weight="normal">10</text>
<text x="99.0" y="393.59999999999997" font-size="3.8" text-anchor="start" fill="#231f20" font-weight="normal">5</text>
<text x="122.8" y="396.7" font-size="6.4" text-anchor="middle" fill="#231f20" font-weight="normal">10</text>
<text x="126.5" y="393.59999999999997" font-size="3.8" text-anchor="start" fill="#231f20" font-weight="normal">6</text>
<text x="148.7" y="396.7" font-size="6.4" text-anchor="middle" fill="#231f20" font-weight="normal">10</text>
<text x="152.39999999999998" y="393.59999999999997" font-size="3.8" text-anchor="start" fill="#231f20" font-weight="normal">7</text>
<text x="174.5" y="396.7" font-size="6.4" text-anchor="middle" fill="#231f20" font-weight="normal">10</text>
<text x="178.2" y="393.59999999999997" font-size="3.8" text-anchor="start" fill="#231f20" font-weight="normal">8</text>
<text x="106.2" y="421.0" font-size="8.8" text-anchor="middle" fill="#231f20" font-weight="normal">Donor 2</text>
<text x="169.6" y="425.2" font-size="6.5" text-anchor="middle" fill="#231f20" font-weight="normal">% of HbF+</text>
<text x="169.6" y="432.7" font-size="6.5" text-anchor="middle" fill="#231f20" font-weight="normal">RBCs</text>
<text x="212.8" y="425.2" font-size="6.5" text-anchor="middle" fill="#231f20" font-weight="normal">Desired/</text>
<text x="212.6" y="432.7" font-size="6.5" text-anchor="middle" fill="#231f20" font-weight="normal">Part. edits</text>
<line x1="19.6" y1="469.1" x2="193.1" y2="469.1" stroke="#dcdcdc" stroke-width="1.3"/>
<path d="M90.4,469.1 L90.4,469.1 L92.5,460.5 L94.2,451.8 L96.4,448 L99,448 L101.6,446.7 L104.2,450.1 L107.7,453.6 L109.8,454.4 L112,455 L114.6,459.6 L119.8,463.1 L126.7,465.7 L135.4,467.8 L144,468.8 L150,469.1 L150,469.1 Z" fill="#dedee0" stroke="none"/>
<path d="M90.4,469.1 L90.4,469.1 L92.5,460.5 L94.2,451.8 L96.4,448 L99,448 L101.6,446.7 L104.2,450.1 L107.7,453.6 L109.8,454.4 L112,455 L114.6,459.6 L119.8,463.1 L126.7,465.7 L135.4,467.8 L144,468.8 L150,469.1" fill="none" stroke="#b4b4b4" stroke-width="0.9" stroke-linejoin="round"/>
<line x1="19.6" y1="496.4" x2="193.1" y2="496.4" stroke="#efd2de" stroke-width="1.3"/>
<path d="M89.5,496.4 L89.5,496.4 L92.1,492.1 L94.7,486.9 L97.3,484.3 L99.9,480.8 L101.1,480.5 L103.4,482.9 L106,485.7 L109.4,486 L114.6,487.4 L120.7,489.5 L125.8,493.8 L131.9,494.3 L142.3,495.5 L150.9,495.5 L154,493.3 L157,496.4 L157,496.4 Z" fill="#e682b4" stroke="none"/>
<path d="M89.5,496.4 L89.5,496.4 L92.1,492.1 L94.7,486.9 L97.3,484.3 L99.9,480.8 L101.1,480.5 L103.4,482.9 L106,485.7 L109.4,486 L114.6,487.4 L120.7,489.5 L125.8,493.8 L131.9,494.3 L142.3,495.5 L150.9,495.5 L154,493.3 L157,496.4" fill="none" stroke="#c8307f" stroke-width="0.9" stroke-linejoin="round"/>
<line x1="19.6" y1="524.8" x2="193.1" y2="524.8" stroke="#cdd6e0" stroke-width="1.3"/>
<path d="M89.5,524.8 L89.5,524.8 L97.3,522.5 L103.4,521.3 L107.7,516.5 L112,511.3 L115.5,504.4 L118.4,500.6 L121.5,504.4 L125,510.4 L129.3,512.2 L131.9,515.6 L135.4,520.8 L144,522 L154.4,524.8 L154.4,524.8 Z" fill="#8caac8" stroke="none"/>
<path d="M89.5,524.8 L89.5,524.8 L97.3,522.5 L103.4,521.3 L107.7,516.5 L112,511.3 L115.5,504.4 L118.4,500.6 L121.5,504.4 L125,510.4 L129.3,512.2 L131.9,515.6 L135.4,520.8 L144,522 L154.4,524.8" fill="none" stroke="#24507e" stroke-width="0.9" stroke-linejoin="round"/>
<line x1="19.6" y1="552.3" x2="193.1" y2="552.3" stroke="#f5e6cc" stroke-width="1.3"/>
<path d="M88.65,552.3 L88.65,552.3 L95.6,548 L101.6,542.8 L107.7,539.3 L110.3,535.8 L112.9,534.1 L115.5,535.5 L117.7,535 L120.1,532.7 L122.4,535.8 L125.8,541 L130.2,546.2 L135.4,548 L140.6,549.3 L145.7,551.8 L154.4,552.3 L154.4,552.3 Z" fill="#f7c37c" stroke="none"/>
<path d="M88.65,552.3 L88.65,552.3 L95.6,548 L101.6,542.8 L107.7,539.3 L110.3,535.8 L112.9,534.1 L115.5,535.5 L117.7,535 L120.1,532.7 L122.4,535.8 L125.8,541 L130.2,546.2 L135.4,548 L140.6,549.3 L145.7,551.8 L154.4,552.3" fill="none" stroke="#e3972a" stroke-width="0.9" stroke-linejoin="round"/>
<line x1="19.6" y1="580.3" x2="193.1" y2="580.3" stroke="#efcfd6" stroke-width="1.3"/>
<path d="M89.5,580.3 L89.5,580.3 L93.8,575.1 L97.3,572.1 L99.9,572.5 L104.2,573.4 L107.7,571.6 L110.3,569 L112.9,564.7 L114.6,562.1 L117.2,563 L119.8,567.3 L122.4,572.5 L126.7,574.2 L131,576.8 L135.4,579.1 L144,580 L152.7,580.3 L152.7,580.3 Z" fill="#e08797" stroke="none"/>
<path d="M89.5,580.3 L89.5,580.3 L93.8,575.1 L97.3,572.1 L99.9,572.5 L104.2,573.4 L107.7,571.6 L110.3,569 L112.9,564.7 L114.6,562.1 L117.2,563 L119.8,567.3 L122.4,572.5 L126.7,574.2 L131,576.8 L135.4,579.1 L144,580 L152.7,580.3" fill="none" stroke="#9c1b3c" stroke-width="0.9" stroke-linejoin="round"/>
<line x1="19.6" y1="608.6" x2="193.1" y2="608.6" stroke="#d3ebd3" stroke-width="1.3"/>
<path d="M94.5,608.6 L94.5,608.6 L98.3,605.3 L102.5,600.5 L107.7,597 L110.3,595.3 L112.9,591 L116,587.5 L118.9,590.1 L121.5,592.7 L125.8,597.9 L129.3,601.4 L135.4,604 L142.3,606.5 L148.3,608.6 L148.3,608.6 Z" fill="#a0d0a0" stroke="none"/>
<path d="M94.5,608.6 L94.5,608.6 L98.3,605.3 L102.5,600.5 L107.7,597 L110.3,595.3 L112.9,591 L116,587.5 L118.9,590.1 L121.5,592.7 L125.8,597.9 L129.3,601.4 L135.4,604 L142.3,606.5 L148.3,608.6" fill="none" stroke="#4a9e55" stroke-width="0.9" stroke-linejoin="round"/>
<path d="M19.6,608.6 L19.6,438.79999999999995 L193.1,438.79999999999995 L193.1,608.6" fill="none" stroke="#666" stroke-width="1"/>
<line x1="19.6" y1="608.6" x2="193.1" y2="608.6" stroke="#4a4a4a" stroke-width="1.0"/>
<line x1="109.2" y1="438.79999999999995" x2="109.2" y2="608.6" stroke="#444" stroke-width="0.9"/>
<text x="25.6" y="458.2" font-size="6.4" text-anchor="start" fill="#231f20" font-weight="normal">Ctrl</text>
<text x="171.5" y="460.29999999999995" font-size="6.7" text-anchor="middle" fill="#231f20" font-weight="normal">57%</text>
<text x="25.6" y="483.2" font-size="6.4" text-anchor="start" fill="#231f20" font-weight="normal">PEnmax</text>
<text x="25.6" y="491.0" font-size="6.4" text-anchor="start" fill="#231f20" font-weight="normal">epeg10.4</text>
<text x="171.5" y="488.4" font-size="6.7" text-anchor="middle" fill="#231f20" font-weight="normal">62%</text>
<text x="217.3" y="490.09999999999997" font-size="6.7" text-anchor="middle" fill="#231f20" font-weight="normal">0.1%</text>
<text x="25.6" y="511.09999999999997" font-size="6.4" text-anchor="start" fill="#231f20" font-weight="normal">ABE8-13m</text>
<text x="25.6" y="518.9" font-size="6.4" text-anchor="start" fill="#231f20" font-weight="normal">gBCL113</text>
<text x="171.5" y="516.9" font-size="6.7" text-anchor="middle" fill="#231f20" font-weight="normal">91%</text>
<text x="217.3" y="516.9" font-size="6.7" text-anchor="middle" fill="#231f20" font-weight="normal">46.6%</text>
<text x="25.6" y="539.4" font-size="6.4" text-anchor="start" fill="#231f20" font-weight="normal">ABE8-13m</text>
<text x="25.6" y="547.1999999999999" font-size="6.4" text-anchor="start" fill="#231f20" font-weight="normal">gKLF123/124</text>
<text x="171.5" y="545.3" font-size="6.7" text-anchor="middle" fill="#231f20" font-weight="normal">84%</text>
<text x="217.3" y="545.3" font-size="6.7" text-anchor="middle" fill="#231f20" font-weight="normal">15.4%</text>
<text x="25.6" y="561.9" font-size="6.4" text-anchor="start" fill="#231f20" font-weight="normal">ABE8-13m</text>
<text x="25.6" y="569.6999999999999" font-size="6.4" text-anchor="start" fill="#231f20" font-weight="normal">gBCL113</text>
<text x="25.6" y="577.5" font-size="6.4" text-anchor="start" fill="#231f20" font-weight="normal">gKLF123/124</text>
<text x="171.5" y="573.7" font-size="6.7" text-anchor="middle" fill="#231f20" font-weight="normal">82%</text>
<text x="217.3" y="573.7" font-size="6.7" text-anchor="middle" fill="#231f20" font-weight="normal">5.5%</text>
<text x="25.6" y="593.0" font-size="6.4" text-anchor="start" fill="#231f20" font-weight="normal">ABE8-13m</text>
<text x="25.6" y="600.8" font-size="6.4" text-anchor="start" fill="#231f20" font-weight="normal">gKLF198</text>
<text x="171.5" y="601.9" font-size="6.7" text-anchor="middle" fill="#231f20" font-weight="normal">87%</text>
<text x="217.3" y="601.9" font-size="6.7" text-anchor="middle" fill="#231f20" font-weight="normal">30.1%</text>
<line x1="38.8" y1="608.6" x2="38.8" y2="611.0" stroke="#222" stroke-width="0.8"/>
<line x1="67.8" y1="608.6" x2="67.8" y2="611.0" stroke="#222" stroke-width="0.8"/>
<line x1="95.8" y1="608.6" x2="95.8" y2="611.0" stroke="#222" stroke-width="0.8"/>
<line x1="123.3" y1="608.6" x2="123.3" y2="611.0" stroke="#222" stroke-width="0.8"/>
<line x1="149.2" y1="608.6" x2="149.2" y2="611.0" stroke="#222" stroke-width="0.8"/>
<line x1="175.0" y1="608.6" x2="175.0" y2="611.0" stroke="#222" stroke-width="0.8"/>
<line x1="76.22883987859147" y1="608.6" x2="76.22883987859147" y2="610.5" stroke="#333" stroke-width="0.75"/>
<line x1="81.15939513215055" y1="608.6" x2="81.15939513215055" y2="610.5" stroke="#333" stroke-width="0.75"/>
<line x1="84.65767975718295" y1="608.6" x2="84.65767975718295" y2="610.5" stroke="#333" stroke-width="0.75"/>
<line x1="87.37116012140852" y1="608.6" x2="87.37116012140852" y2="610.5" stroke="#333" stroke-width="0.75"/>
<line x1="89.58823501074201" y1="608.6" x2="89.58823501074201" y2="610.5" stroke="#333" stroke-width="0.75"/>
<line x1="91.46274512039919" y1="608.6" x2="91.46274512039919" y2="610.5" stroke="#333" stroke-width="0.75"/>
<line x1="93.08651963577441" y1="608.6" x2="93.08651963577441" y2="610.5" stroke="#333" stroke-width="0.75"/>
<line x1="94.51879026430109" y1="608.6" x2="94.51879026430109" y2="610.5" stroke="#333" stroke-width="0.75"/>
<line x1="104.07832488075948" y1="608.6" x2="104.07832488075948" y2="610.5" stroke="#333" stroke-width="0.75"/>
<line x1="108.92083450479072" y1="608.6" x2="108.92083450479072" y2="610.5" stroke="#333" stroke-width="0.75"/>
<line x1="112.35664976151897" y1="608.6" x2="112.35664976151897" y2="610.5" stroke="#333" stroke-width="0.75"/>
<line x1="115.02167511924051" y1="608.6" x2="115.02167511924051" y2="610.5" stroke="#333" stroke-width="0.75"/>
<line x1="117.19915938555019" y1="608.6" x2="117.19915938555019" y2="610.5" stroke="#333" stroke-width="0.75"/>
<line x1="119.04019610039205" y1="608.6" x2="119.04019610039205" y2="610.5" stroke="#333" stroke-width="0.75"/>
<line x1="120.63497464227845" y1="608.6" x2="120.63497464227845" y2="610.5" stroke="#333" stroke-width="0.75"/>
<line x1="122.04166900958143" y1="608.6" x2="122.04166900958143" y2="610.5" stroke="#333" stroke-width="0.75"/>
<line x1="131.0966768876971" y1="608.6" x2="131.0966768876971" y2="610.5" stroke="#333" stroke-width="0.75"/>
<line x1="135.65744049723924" y1="608.6" x2="135.65744049723924" y2="610.5" stroke="#333" stroke-width="0.75"/>
<line x1="138.89335377539422" y1="608.6" x2="138.89335377539422" y2="610.5" stroke="#333" stroke-width="0.75"/>
<line x1="141.40332311230287" y1="608.6" x2="141.40332311230287" y2="610.5" stroke="#333" stroke-width="0.75"/>
<line x1="143.45411738493635" y1="608.6" x2="143.45411738493635" y2="610.5" stroke="#333" stroke-width="0.75"/>
<line x1="145.18803923636924" y1="608.6" x2="145.18803923636924" y2="610.5" stroke="#333" stroke-width="0.75"/>
<line x1="146.69003066309133" y1="608.6" x2="146.69003066309133" y2="610.5" stroke="#333" stroke-width="0.75"/>
<line x1="148.01488099447852" y1="608.6" x2="148.01488099447852" y2="610.5" stroke="#333" stroke-width="0.75"/>
<line x1="156.9665738881307" y1="608.6" x2="156.9665738881307" y2="610.5" stroke="#333" stroke-width="0.75"/>
<line x1="161.5097283717673" y1="608.6" x2="161.5097283717673" y2="610.5" stroke="#333" stroke-width="0.75"/>
<line x1="164.73314777626143" y1="608.6" x2="164.73314777626143" y2="610.5" stroke="#333" stroke-width="0.75"/>
<line x1="167.23342611186928" y1="608.6" x2="167.23342611186928" y2="610.5" stroke="#333" stroke-width="0.75"/>
<line x1="169.276302259898" y1="608.6" x2="169.276302259898" y2="610.5" stroke="#333" stroke-width="0.75"/>
<line x1="171.00352943236783" y1="608.6" x2="171.00352943236783" y2="610.5" stroke="#333" stroke-width="0.75"/>
<line x1="172.49972166439215" y1="608.6" x2="172.49972166439215" y2="610.5" stroke="#333" stroke-width="0.75"/>
<line x1="173.81945674353457" y1="608.6" x2="173.81945674353457" y2="610.5" stroke="#333" stroke-width="0.75"/>
<line x1="182.76657388813072" y1="608.6" x2="182.76657388813072" y2="610.5" stroke="#333" stroke-width="0.75"/>
<line x1="187.3097283717673" y1="608.6" x2="187.3097283717673" y2="610.5" stroke="#333" stroke-width="0.75"/>
<line x1="190.53314777626144" y1="608.6" x2="190.53314777626144" y2="610.5" stroke="#333" stroke-width="0.75"/>
<line x1="41.699999999999996" y1="608.6" x2="41.699999999999996" y2="610.5" stroke="#333" stroke-width="0.75"/>
<line x1="44.599999999999994" y1="608.6" x2="44.599999999999994" y2="610.5" stroke="#333" stroke-width="0.75"/>
<line x1="47.5" y1="608.6" x2="47.5" y2="610.5" stroke="#333" stroke-width="0.75"/>
<line x1="50.4" y1="608.6" x2="50.4" y2="610.5" stroke="#333" stroke-width="0.75"/>
<line x1="53.3" y1="608.6" x2="53.3" y2="610.5" stroke="#333" stroke-width="0.75"/>
<line x1="56.199999999999996" y1="608.6" x2="56.199999999999996" y2="610.5" stroke="#333" stroke-width="0.75"/>
<line x1="59.099999999999994" y1="608.6" x2="59.099999999999994" y2="610.5" stroke="#333" stroke-width="0.75"/>
<line x1="62.0" y1="608.6" x2="62.0" y2="610.5" stroke="#333" stroke-width="0.75"/>
<line x1="64.9" y1="608.6" x2="64.9" y2="610.5" stroke="#333" stroke-width="0.75"/>
<line x1="35.9" y1="608.6" x2="35.9" y2="610.5" stroke="#333" stroke-width="0.75"/>
<line x1="33.0" y1="608.6" x2="33.0" y2="610.5" stroke="#333" stroke-width="0.75"/>
<line x1="30.099999999999998" y1="608.6" x2="30.099999999999998" y2="610.5" stroke="#333" stroke-width="0.75"/>
<line x1="27.199999999999996" y1="608.6" x2="27.199999999999996" y2="610.5" stroke="#333" stroke-width="0.75"/>
<line x1="24.299999999999997" y1="608.6" x2="24.299999999999997" y2="610.5" stroke="#333" stroke-width="0.75"/>
<text x="39.2" y="620.0" font-size="6.4" text-anchor="middle" fill="#231f20" font-weight="normal">0</text>
<text x="67.3" y="620.0" font-size="6.4" text-anchor="middle" fill="#231f20" font-weight="normal">10</text>
<text x="71.0" y="616.9" font-size="3.8" text-anchor="start" fill="#231f20" font-weight="normal">4</text>
<text x="95.3" y="620.0" font-size="6.4" text-anchor="middle" fill="#231f20" font-weight="normal">10</text>
<text x="99.0" y="616.9" font-size="3.8" text-anchor="start" fill="#231f20" font-weight="normal">5</text>
<text x="122.8" y="620.0" font-size="6.4" text-anchor="middle" fill="#231f20" font-weight="normal">10</text>
<text x="126.5" y="616.9" font-size="3.8" text-anchor="start" fill="#231f20" font-weight="normal">6</text>
<text x="148.7" y="620.0" font-size="6.4" text-anchor="middle" fill="#231f20" font-weight="normal">10</text>
<text x="152.39999999999998" y="616.9" font-size="3.8" text-anchor="start" fill="#231f20" font-weight="normal">7</text>
<text x="174.5" y="620.0" font-size="6.4" text-anchor="middle" fill="#231f20" font-weight="normal">10</text>
<text x="178.2" y="616.9" font-size="3.8" text-anchor="start" fill="#231f20" font-weight="normal">8</text>
<text x="407.0" y="197.0" font-size="8.8" text-anchor="middle" fill="#231f20" font-weight="normal">Donor 1</text>
<rect x="349.50" y="213.27" width="16.20" height="69.13" fill="#bebec4"/>
<rect x="374.25" y="244.62" width="16.20" height="37.78" fill="#17508c"/>
<rect x="399.00" y="250.92" width="16.20" height="31.48" fill="#f39318"/>
<rect x="423.75" y="259.66" width="16.20" height="22.74" fill="#d60f3a"/>
<rect x="448.40" y="263.38" width="16.20" height="19.02" fill="#34a946"/>
<line x1="341.2" y1="202.0" x2="341.2" y2="283.0" stroke="#231f20" stroke-width="1.2"/>
<line x1="340.59999999999997" y1="282.4" x2="473.4" y2="282.4" stroke="#231f20" stroke-width="1.2"/>
<line x1="338.0" y1="282.4" x2="341.2" y2="282.4" stroke="#231f20" stroke-width="0.9"/>
<text x="335.0" y="284.79999999999995" font-size="6.7" text-anchor="end" fill="#231f20" font-weight="normal">0</text>
<line x1="338.0" y1="256.7" x2="341.2" y2="256.7" stroke="#231f20" stroke-width="0.9"/>
<text x="335.0" y="259.09999999999997" font-size="6.7" text-anchor="end" fill="#231f20" font-weight="normal">20</text>
<line x1="338.0" y1="231.0" x2="341.2" y2="231.0" stroke="#231f20" stroke-width="0.9"/>
<text x="335.0" y="233.4" font-size="6.7" text-anchor="end" fill="#231f20" font-weight="normal">40</text>
<line x1="338.0" y1="205.3" x2="341.2" y2="205.3" stroke="#231f20" stroke-width="0.9"/>
<text x="335.0" y="207.70000000000002" font-size="6.7" text-anchor="end" fill="#231f20" font-weight="normal">60</text>
<text transform="translate(322.0,242.5) rotate(-90) scale(0.885,1)" x="0" y="0" font-size="7.5" text-anchor="middle" fill="#231f20">Sickling RBCs (%)</text>
<line x1="357.6" y1="282.4" x2="357.6" y2="285.0" stroke="#231f20" stroke-width="0.8"/>
<line x1="382.35" y1="282.4" x2="382.35" y2="285.0" stroke="#231f20" stroke-width="0.8"/>
<line x1="407.1" y1="282.4" x2="407.1" y2="285.0" stroke="#231f20" stroke-width="0.8"/>
<line x1="431.85" y1="282.4" x2="431.85" y2="285.0" stroke="#231f20" stroke-width="0.8"/>
<line x1="456.5" y1="282.4" x2="456.5" y2="285.0" stroke="#231f20" stroke-width="0.8"/>
<text x="357.6" y="294.8" font-size="6.5" text-anchor="middle" fill="#231f20" font-weight="normal">Ctrl</text>
<text x="382.35" y="294.8" font-size="6.5" text-anchor="middle" fill="#231f20" font-weight="normal">gBCL</text>
<text x="382.35" y="302.6" font-size="6.5" text-anchor="middle" fill="#231f20" font-weight="normal">113</text>
<text x="407.1" y="294.8" font-size="6.5" text-anchor="middle" fill="#231f20" font-weight="normal">gKLF</text>
<text x="407.1" y="302.6" font-size="6.5" text-anchor="middle" fill="#231f20" font-weight="normal">123/124</text>
<text x="431.85" y="294.8" font-size="6.5" text-anchor="middle" fill="#231f20" font-weight="normal">gBCL</text>
<text x="431.85" y="302.6" font-size="6.5" text-anchor="middle" fill="#231f20" font-weight="normal">113</text>
<text x="431.85" y="310.40000000000003" font-size="6.5" text-anchor="middle" fill="#231f20" font-weight="normal">gKLF</text>
<text x="431.85" y="318.2" font-size="6.5" text-anchor="middle" fill="#231f20" font-weight="normal">123/124</text>
<text x="456.5" y="294.8" font-size="6.5" text-anchor="middle" fill="#231f20" font-weight="normal">gKLF</text>
<text x="456.5" y="302.6" font-size="6.5" text-anchor="middle" fill="#231f20" font-weight="normal">198</text>
<line x1="372.0" y1="321.5" x2="441.3" y2="321.5" stroke="#555" stroke-width="1.0"/>
<line x1="448.0" y1="321.5" x2="464.6" y2="321.5" stroke="#555" stroke-width="1.0"/>
<text x="406.7" y="329.6" font-size="6.5" text-anchor="middle" fill="#231f20" font-weight="normal">ABE8-13m</text>
<text x="456.5" y="329.6" font-size="6.5" text-anchor="middle" fill="#231f20" font-weight="normal">ABEmax-NG</text>
<text x="355.3" y="343.4" font-size="6.8" text-anchor="end" fill="#231f20" font-weight="normal">Desired/Part. edits</text>
<text x="382.35" y="343.4" font-size="6.7" text-anchor="middle" fill="#231f20" font-weight="normal">62.2</text>
<text x="407.1" y="343.4" font-size="6.7" text-anchor="middle" fill="#231f20" font-weight="normal">32.5</text>
<text x="431.85" y="343.4" font-size="6.7" text-anchor="middle" fill="#231f20" font-weight="normal">4.5</text>
<text x="456.5" y="343.4" font-size="6.7" text-anchor="middle" fill="#231f20" font-weight="normal">47.3</text>
<text x="355.3" y="351.04999999999995" font-size="6.8" text-anchor="end" fill="#231f20" font-weight="normal">Byst./Part. edits</text>
<text x="382.35" y="351.04999999999995" font-size="6.7" text-anchor="middle" fill="#231f20" font-weight="normal">15.5</text>
<text x="407.1" y="351.04999999999995" font-size="6.7" text-anchor="middle" fill="#231f20" font-weight="normal">10.8</text>
<text x="431.85" y="351.04999999999995" font-size="6.7" text-anchor="middle" fill="#231f20" font-weight="normal">0.0</text>
<text x="456.5" y="351.04999999999995" font-size="6.7" text-anchor="middle" fill="#231f20" font-weight="normal">4.5</text>
<text x="355.3" y="358.7" font-size="6.8" text-anchor="end" fill="#231f20" font-weight="normal">InDels</text>
<text x="382.35" y="358.7" font-size="6.7" text-anchor="middle" fill="#231f20" font-weight="normal">0.1</text>
<text x="407.1" y="358.7" font-size="6.7" text-anchor="middle" fill="#231f20" font-weight="normal">1.1</text>
<text x="431.85" y="358.7" font-size="6.7" text-anchor="middle" fill="#231f20" font-weight="normal">38.3</text>
<text x="456.5" y="358.7" font-size="6.7" text-anchor="middle" fill="#231f20" font-weight="normal">2.0</text>
<text x="407.5" y="392.0" font-size="8.8" text-anchor="middle" fill="#231f20" font-weight="normal">Donor 1</text>
<rect x="350.60" y="472.00" width="18.70" height="19.25" fill="#c9c9d1"/>
<rect x="379.20" y="436.20" width="18.70" height="55.05" fill="#e7167f"/>
<rect x="408.20" y="462.60" width="18.70" height="28.65" fill="#dc0e38"/>
<rect x="436.40" y="439.10" width="18.70" height="52.15" fill="#34a946"/>
<line x1="341.2" y1="411.4" x2="341.2" y2="491.85" stroke="#231f20" stroke-width="1.2"/>
<line x1="340.59999999999997" y1="491.25" x2="465.0" y2="491.25" stroke="#231f20" stroke-width="1.2"/>
<line x1="338.0" y1="491.25" x2="341.2" y2="491.25" stroke="#231f20" stroke-width="0.9"/>
<text x="335.2" y="493.65" font-size="6.7" text-anchor="end" fill="#231f20" font-weight="normal">0.0</text>
<line x1="339.4" y1="483.555" x2="341.2" y2="483.555" stroke="#231f20" stroke-width="0.7"/>
<line x1="338.0" y1="475.86" x2="341.2" y2="475.86" stroke="#231f20" stroke-width="0.9"/>
<text x="335.2" y="478.26" font-size="6.7" text-anchor="end" fill="#231f20" font-weight="normal">0.2</text>
<line x1="339.4" y1="468.165" x2="341.2" y2="468.165" stroke="#231f20" stroke-width="0.7"/>
<line x1="338.0" y1="460.47" x2="341.2" y2="460.47" stroke="#231f20" stroke-width="0.9"/>
<text x="335.2" y="462.87" font-size="6.7" text-anchor="end" fill="#231f20" font-weight="normal">0.4</text>
<line x1="339.4" y1="452.775" x2="341.2" y2="452.775" stroke="#231f20" stroke-width="0.7"/>
<line x1="338.0" y1="445.08" x2="341.2" y2="445.08" stroke="#231f20" stroke-width="0.9"/>
<text x="335.2" y="447.47999999999996" font-size="6.7" text-anchor="end" fill="#231f20" font-weight="normal">0.6</text>
<line x1="339.4" y1="437.385" x2="341.2" y2="437.385" stroke="#231f20" stroke-width="0.7"/>
<line x1="338.0" y1="429.69" x2="341.2" y2="429.69" stroke="#231f20" stroke-width="0.9"/>
<text x="335.2" y="432.09" font-size="6.7" text-anchor="end" fill="#231f20" font-weight="normal">0.8</text>
<line x1="339.4" y1="421.995" x2="341.2" y2="421.995" stroke="#231f20" stroke-width="0.7"/>
<line x1="338.0" y1="414.3" x2="341.2" y2="414.3" stroke="#231f20" stroke-width="0.9"/>
<text x="335.2" y="416.7" font-size="6.7" text-anchor="end" fill="#231f20" font-weight="normal">1.0</text>
<text transform="translate(320.3,451.3) rotate(-90) scale(1.0,1)" x="0" y="0" font-size="8.0" text-anchor="middle" fill="#231f20">γ/(β+γ)</text>
<line x1="360.0" y1="472.0" x2="360.0" y2="463.0" stroke="#111" stroke-width="0.8"/>
<line x1="357.6" y1="463.0" x2="362.4" y2="463.0" stroke="#111" stroke-width="0.8"/>
<line x1="388.6" y1="436.2" x2="388.6" y2="429.4" stroke="#111" stroke-width="0.8"/>
<line x1="386.20000000000005" y1="429.4" x2="391.0" y2="429.4" stroke="#111" stroke-width="0.8"/>
<line x1="417.2" y1="462.6" x2="417.2" y2="450.8" stroke="#111" stroke-width="0.8"/>
<line x1="414.8" y1="450.8" x2="419.59999999999997" y2="450.8" stroke="#111" stroke-width="0.8"/>
<line x1="445.7" y1="439.1" x2="445.7" y2="428.5" stroke="#111" stroke-width="0.8"/>
<line x1="443.3" y1="428.5" x2="448.09999999999997" y2="428.5" stroke="#111" stroke-width="0.8"/>
<circle cx="360" cy="453.8" r="1.2" fill="#111"/>
<circle cx="360" cy="456.7" r="1.2" fill="#111"/>
<circle cx="360" cy="461.9" r="1.2" fill="#111"/>
<circle cx="356" cy="467.7" r="1.2" fill="#111"/>
<circle cx="356" cy="470.9" r="1.2" fill="#111"/>
<circle cx="360" cy="469.8" r="1.2" fill="#111"/>
<circle cx="356" cy="474" r="1.2" fill="#111"/>
<circle cx="364" cy="474.4" r="1.2" fill="#111"/>
<circle cx="351.9" cy="478.6" r="1.2" fill="#111"/>
<circle cx="356" cy="476.9" r="1.2" fill="#111"/>
<circle cx="360" cy="476" r="1.2" fill="#111"/>
<circle cx="360" cy="478" r="1.2" fill="#111"/>
<circle cx="364" cy="478" r="1.2" fill="#111"/>
<circle cx="368.4" cy="476.9" r="1.2" fill="#111"/>
<circle cx="368.4" cy="480.1" r="1.2" fill="#111"/>
<circle cx="388.7" cy="431.3" r="1.2" fill="#111"/>
<circle cx="388.7" cy="440.9" r="1.2" fill="#111"/>
<circle cx="417.1" cy="442.9" r="1.2" fill="#111"/>
<circle cx="412.3" cy="449.2" r="1.2" fill="#111"/>
<circle cx="421.9" cy="450.8" r="1.2" fill="#111"/>
<circle cx="417.1" cy="452.2" r="1.2" fill="#111"/>
<circle cx="412.3" cy="454.6" r="1.2" fill="#111"/>
<circle cx="417.1" cy="455.5" r="1.2" fill="#111"/>
<circle cx="421.9" cy="455.6" r="1.2" fill="#111"/>
<circle cx="412.3" cy="457.6" r="1.2" fill="#111"/>
<circle cx="417.1" cy="459.4" r="1.2" fill="#111"/>
<circle cx="414.7" cy="466" r="1.2" fill="#111"/>
<circle cx="419.5" cy="466" r="1.2" fill="#111"/>
<circle cx="414.7" cy="470.1" r="1.2" fill="#111"/>
<circle cx="419.5" cy="470.1" r="1.2" fill="#111"/>
<circle cx="421.9" cy="473.7" r="1.2" fill="#111"/>
<circle cx="417.1" cy="475.5" r="1.2" fill="#111"/>
<circle cx="414.7" cy="480.9" r="1.2" fill="#111"/>
<circle cx="419.5" cy="479.7" r="1.2" fill="#111"/>
<circle cx="445.6" cy="428.1" r="1.2" fill="#111"/>
<circle cx="438.5" cy="431.9" r="1.2" fill="#111"/>
<circle cx="452.8" cy="432.3" r="1.2" fill="#111"/>
<circle cx="438.5" cy="435.3" r="1.2" fill="#111"/>
<circle cx="443.3" cy="434.3" r="1.2" fill="#111"/>
<circle cx="448" cy="434.1" r="1.2" fill="#111"/>
<circle cx="452.8" cy="435.5" r="1.2" fill="#111"/>
<circle cx="443.3" cy="437.7" r="1.2" fill="#111"/>
<circle cx="448" cy="437.7" r="1.2" fill="#111"/>
<circle cx="452.8" cy="438.5" r="1.2" fill="#111"/>
<circle cx="448" cy="440.5" r="1.2" fill="#111"/>
<circle cx="445.6" cy="445.1" r="1.2" fill="#111"/>
<circle cx="445.6" cy="449.2" r="1.2" fill="#111"/>
<circle cx="445.6" cy="464.2" r="1.2" fill="#111"/>
<line x1="360.0" y1="412.7" x2="446.2" y2="412.7" stroke="#7a7a7a" stroke-width="1.1"/>
<line x1="360.0" y1="422.3" x2="388.5" y2="422.3" stroke="#7a7a7a" stroke-width="1.1"/>
<line x1="417.2" y1="422.3" x2="446.2" y2="422.3" stroke="#7a7a7a" stroke-width="1.1"/>
<text x="402.8" y="413.0" font-size="6.8" text-anchor="middle" fill="#231f20" font-weight="normal">****</text>
<text x="373.8" y="422.9" font-size="6.8" text-anchor="middle" fill="#231f20" font-weight="normal">*</text>
<text x="431.6" y="422.9" font-size="6.8" text-anchor="middle" fill="#231f20" font-weight="normal">**</text>
<line x1="359.95000000000005" y1="491.25" x2="359.95000000000005" y2="493.85" stroke="#231f20" stroke-width="0.8"/>
<line x1="388.55" y1="491.25" x2="388.55" y2="493.85" stroke="#231f20" stroke-width="0.8"/>
<line x1="417.55" y1="491.25" x2="417.55" y2="493.85" stroke="#231f20" stroke-width="0.8"/>
<line x1="445.75" y1="491.25" x2="445.75" y2="493.85" stroke="#231f20" stroke-width="0.8"/>
<text x="359.95000000000005" y="504.0" font-size="6.6" text-anchor="middle" fill="#231f20" font-weight="normal">Ctrl</text>
<text x="388.55" y="504.0" font-size="6.6" text-anchor="middle" fill="#231f20" font-weight="normal">epeg</text>
<text x="388.55" y="511.9" font-size="6.6" text-anchor="middle" fill="#231f20" font-weight="normal">10.4</text>
<text x="417.55" y="504.0" font-size="6.6" text-anchor="middle" fill="#231f20" font-weight="normal">gBCL</text>
<text x="417.55" y="511.9" font-size="6.6" text-anchor="middle" fill="#231f20" font-weight="normal">113</text>
<text x="417.55" y="519.8" font-size="6.6" text-anchor="middle" fill="#231f20" font-weight="normal">gKLF</text>
<text x="417.55" y="527.7" font-size="6.6" text-anchor="middle" fill="#231f20" font-weight="normal">123/124</text>
<text x="445.75" y="504.0" font-size="6.6" text-anchor="middle" fill="#231f20" font-weight="normal">gKLF</text>
<text x="445.75" y="511.9" font-size="6.6" text-anchor="middle" fill="#231f20" font-weight="normal">198</text>
<line x1="380.2" y1="530.1" x2="396.2" y2="530.1" stroke="#555" stroke-width="1.0"/>
<line x1="409.0" y1="530.1" x2="424.8" y2="530.1" stroke="#555" stroke-width="1.0"/>
<line x1="437.6" y1="530.1" x2="454.3" y2="530.1" stroke="#555" stroke-width="1.0"/>
<text x="388.4" y="536.8" font-size="6.5" text-anchor="middle" fill="#231f20" font-weight="normal">PEnmax</text>
<text x="417.0" y="536.8" font-size="6.5" text-anchor="middle" fill="#231f20" font-weight="normal">ABE8</text>
<text x="417.0" y="545.3" font-size="6.5" text-anchor="middle" fill="#231f20" font-weight="normal">-13m</text>
<text x="446.0" y="536.8" font-size="6.5" text-anchor="middle" fill="#231f20" font-weight="normal">ABEmax</text>
<text x="446.0" y="545.3" font-size="6.5" text-anchor="middle" fill="#231f20" font-weight="normal">-NG</text>
<text x="354.5" y="558.9" font-size="6.8" text-anchor="end" fill="#231f20" font-weight="normal">Desired/Part. edits</text>
<text x="388.55" y="558.9" font-size="6.7" text-anchor="middle" fill="#231f20" font-weight="normal">17.8</text>
<text x="417.55" y="558.9" font-size="6.7" text-anchor="middle" fill="#231f20" font-weight="normal">0.0</text>
<text x="445.75" y="558.9" font-size="6.7" text-anchor="middle" fill="#231f20" font-weight="normal">55.6</text>
<text x="354.5" y="566.65" font-size="6.8" text-anchor="end" fill="#231f20" font-weight="normal">+/–SD</text>
<text x="388.55" y="566.65" font-size="6.7" text-anchor="middle" fill="#231f20" font-weight="normal">+/–0.0</text>
<text x="445.75" y="566.65" font-size="6.7" text-anchor="middle" fill="#231f20" font-weight="normal">+/–14.2</text>
<text x="354.5" y="574.4" font-size="6.8" text-anchor="end" fill="#231f20" font-weight="normal">Byst./Part. edits</text>
<text x="388.55" y="574.4" font-size="6.7" text-anchor="middle" fill="#231f20" font-weight="normal">n.a.</text>
<text x="417.55" y="574.4" font-size="6.7" text-anchor="middle" fill="#231f20" font-weight="normal">0.0</text>
<text x="445.75" y="574.4" font-size="6.7" text-anchor="middle" fill="#231f20" font-weight="normal">5.5</text>
<text x="354.5" y="582.15" font-size="6.8" text-anchor="end" fill="#231f20" font-weight="normal">+/–SD</text>
<text x="445.75" y="582.15" font-size="6.7" text-anchor="middle" fill="#231f20" font-weight="normal">+/–3.7</text>
<text x="354.5" y="589.9" font-size="6.8" text-anchor="end" fill="#231f20" font-weight="normal">InDels</text>
<text x="388.55" y="589.9" font-size="6.7" text-anchor="middle" fill="#231f20" font-weight="normal">21.5</text>
<text x="417.55" y="589.9" font-size="6.7" text-anchor="middle" fill="#231f20" font-weight="normal">87.5</text>
<text x="445.75" y="589.9" font-size="6.7" text-anchor="middle" fill="#231f20" font-weight="normal">3.1</text>
<text x="354.5" y="597.65" font-size="6.8" text-anchor="end" fill="#231f20" font-weight="normal">+/–SD</text>
<text x="388.55" y="597.65" font-size="6.7" text-anchor="middle" fill="#231f20" font-weight="normal">+/–0.0</text>
<text x="417.55" y="597.65" font-size="6.7" text-anchor="middle" fill="#231f20" font-weight="normal">+/–11.3</text>
<text x="445.75" y="597.65" font-size="6.7" text-anchor="middle" fill="#231f20" font-weight="normal">+/–2.3</text>
</svg>
<div id="brd"></div>
</div></body></html>
